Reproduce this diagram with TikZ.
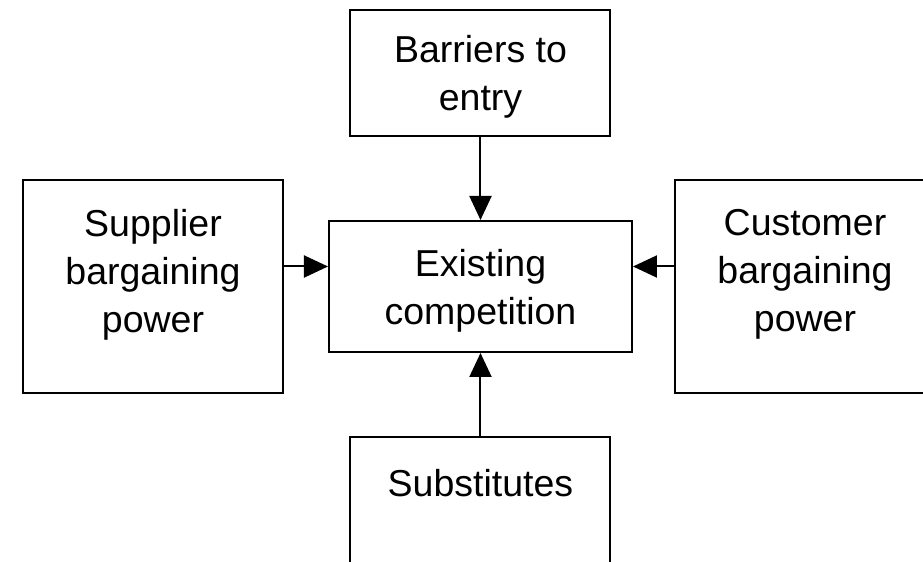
\documentclass[tikz,border=0pt]{standalone}
\usepackage{fontspec}
\setmainfont{Liberation Sans}
\usepackage{tikz}
\usetikzlibrary{arrows.meta,positioning}

\begin{document}
\begin{tikzpicture}[
  font=\fontsize{18.75}{24}\selectfont,
  force/.style={draw=black,line width=1pt,align=center,inner sep=0pt,minimum width=130pt},
  push/.style={-{Triangle[length=12pt,width=11pt]},line width=1pt}
]
\useasboundingbox (-240.25pt,-137.75pt) rectangle (221.25pt,143.25pt);
\node[force,minimum width=151.5pt,minimum height=65.5pt,text depth=0pt] (existing){Existing\\competition};
\node[force,above=41.5pt of existing,minimum height=63pt,text depth=0pt] (barriers){Barriers to\\entry};
\node[force,left=22pt of existing,minimum height=106.5pt,text depth=16pt] (supplier){Supplier\\bargaining\\power};
\node[force,right=20.5pt of existing,minimum height=106.5pt,text depth=16pt] (customer){Customer\\bargaining\\power};
\node[force,below=41.5pt of existing,minimum height=70pt,text depth=24pt] (substitutes){Substitutes};

\draw[push] (barriers) -- (existing);
\draw[push] (substitutes) -- (existing);
\draw[push] ([yshift=10pt]supplier.east) -- ([yshift=10pt]supplier.east -| existing.west);
\draw[push] ([yshift=10pt]customer.west) -- ([yshift=10pt]customer.west -| existing.east);
\end{tikzpicture}
\end{document}
